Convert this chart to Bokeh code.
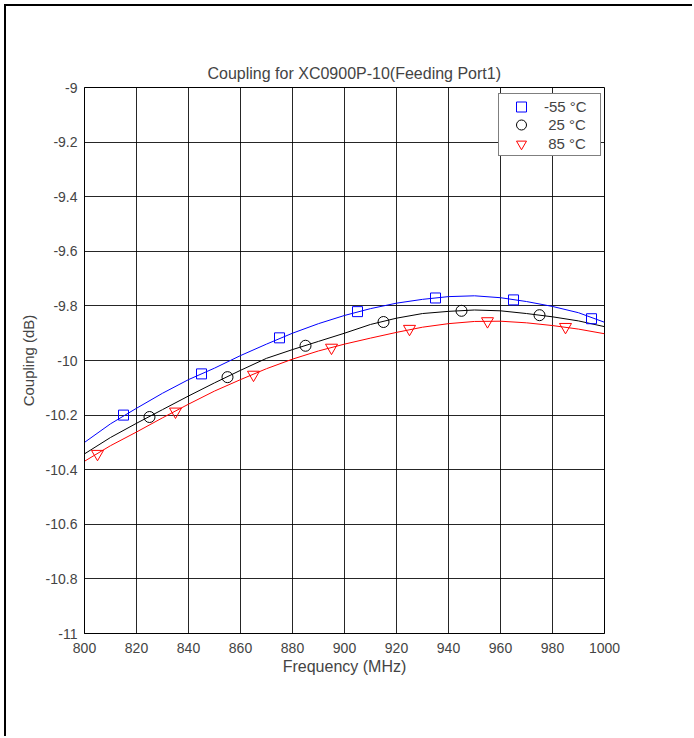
from bokeh.plotting import figure
from bokeh.models import Legend, LegendItem, FixedTicker, CustomJSTickFormatter, Range1d
from bokeh.embed import file_html
from bokeh.resources import INLINE

# ---- data ----
freq = [800, 810, 820, 830, 840, 850, 860, 870, 880, 890, 900,
        910, 920, 930, 940, 950, 960, 970, 980, 990, 1000]
line_m55 = [-10.300, -10.232, -10.175, -10.120, -10.070, -10.028, -9.982, -9.940, -9.900, -9.865, -9.835,
            -9.810, -9.790, -9.776, -9.766, -9.763, -9.770, -9.784, -9.802, -9.825, -9.860]
line_25 = [-10.342, -10.282, -10.230, -10.180, -10.130, -10.082, -10.036, -9.992, -9.960, -9.930, -9.900,
           -9.868, -9.845, -9.828, -9.820, -9.815, -9.818, -9.828, -9.840, -9.855, -9.876]
line_85 = [-10.369, -10.312, -10.262, -10.210, -10.160, -10.112, -10.070, -10.030, -9.995, -9.965, -9.940,
           -9.918, -9.897, -9.878, -9.865, -9.857, -9.856, -9.862, -9.872, -9.885, -9.902]

mk_m55_x = [815, 845, 875, 905, 935, 965, 995]
mk_m55_y = [-10.200, -10.049, -9.917, -9.821, -9.771, -9.778, -9.847]
mk_25_x = [825, 855, 885, 915, 945, 975]
mk_25_y = [-10.207, -10.061, -9.946, -9.859, -9.818, -9.834]
mk_85_x = [805, 835, 865, 895, 925, 955, 985]
mk_85_y = [-10.342, -10.187, -10.052, -9.953, -9.884, -9.856, -9.877]

legend_labels = ["-55 \u00b0C", " 25 \u00b0C", " 85 \u00b0C"]
x_ticks = [800, 820, 840, 860, 880, 900, 920, 940, 960, 980, 1000]
y_ticks = [-11, -10.8, -10.6, -10.4, -10.2, -10, -9.8, -9.6, -9.4, -9.2, -9]

FONT = "Liberation Sans"

p = figure(width=688, height=732, output_backend="svg", toolbar_location=None,
           x_range=Range1d(800, 1000), y_range=Range1d(-11, -9),
           title="Coupling for XC0900P-10(Feeding Port1)",
           min_border_left=78, min_border_right=90, min_border_top=81, min_border_bottom=105)

p.styles = {"margin-left": "4px", "margin-top": "4px",
            "border-left": "2px solid black", "border-top": "2px solid black"}

p.background_fill_color = "white"
p.border_fill_color = "white"
p.outline_line_color = "black"
p.outline_line_width = 1

p.title.text_font = FONT
p.title.text_font_size = "16px"
p.title.text_font_style = "normal"
p.title.align = "left"
p.title.offset = 123
p.title.standoff = 11

for ax in (p.xaxis[0], p.yaxis[0]):
    ax.axis_line_color = "black"
    ax.axis_line_width = 1
    ax.major_tick_in = 0
    ax.major_tick_out = 0
    ax.minor_tick_line_color = None
    ax.major_label_text_font = FONT
    ax.major_label_text_font_size = "14px"
    ax.axis_label_text_font = FONT
    ax.axis_label_text_font_style = "normal"

p.xaxis.axis_label_text_font_size = "16px"
p.yaxis.axis_label_text_font_size = "15px"
p.xaxis.ticker = FixedTicker(ticks=x_ticks)
p.yaxis.ticker = FixedTicker(ticks=y_ticks)
p.yaxis.formatter = CustomJSTickFormatter(code="return (Math.round(tick*10)/10).toString();")
p.xaxis.major_label_standoff = 9
p.yaxis.major_label_standoff = 7
p.xaxis.axis_label = "Frequency (MHz)"
p.yaxis.axis_label = "Coupling (dB)"
p.xaxis.axis_label_standoff = 2
p.yaxis.axis_label_standoff = 6

p.xgrid.grid_line_color = "black"
p.ygrid.grid_line_color = "black"
p.xgrid.grid_line_alpha = 0.85
p.ygrid.grid_line_alpha = 0.85
p.xgrid.grid_line_width = 1
p.ygrid.grid_line_width = 1

p.line(freq, line_m55, line_color="#0000ff", line_width=1)
p.line(freq, line_25, line_color="black", line_width=1)
p.line(freq, line_85, line_color="#ff0000", line_width=1)

r1 = p.scatter(mk_m55_x, mk_m55_y, marker="square", size=10, fill_color=None,
               line_color="#0000ff", line_width=1)
r2 = p.scatter(mk_25_x, mk_25_y, marker="circle", size=11, fill_color=None,
               line_color="black", line_width=1)
r3 = p.scatter(mk_85_x, mk_85_y, marker="inverted_triangle", size=12, fill_color=None,
               line_color="#ff0000", line_width=1)

# legend frame (white box with black border, no glyph drawn: zero glyph width)
box = Legend(items=[LegendItem(label=" ", renderers=[r1])], location=(414, 477))
box.border_line_color = "black"
box.border_line_width = 1
box.background_fill_color = "white"
box.background_fill_alpha = 1
box.padding = 0
box.margin = 0
box.glyph_width = 0
box.glyph_height = 61
box.label_height = 61
box.label_width = 101
box.label_standoff = 0
box.label_text_font_size = "1px"
p.add_layout(box)

# one transparent legend per entry so the marker size matches the plot
for item_label, rend, loc_y in zip(legend_labels, [r1, r2, r3], [514, 496, 477]):
    lg = Legend(items=[LegendItem(label=item_label, renderers=[rend])], location=(414, loc_y))
    lg.border_line_color = None
    lg.background_fill_alpha = 0
    lg.label_text_font = FONT
    lg.label_text_font_size = "15px"
    lg.padding = 0
    lg.margin = 0
    lg.spacing = 0
    lg.glyph_height = 25
    lg.label_height = 25
    lg.glyph_width = 46
    lg.label_width = 56
    lg.label_standoff = -1
    p.add_layout(lg)

open("out.html", "w").write(file_html(p, INLINE))
